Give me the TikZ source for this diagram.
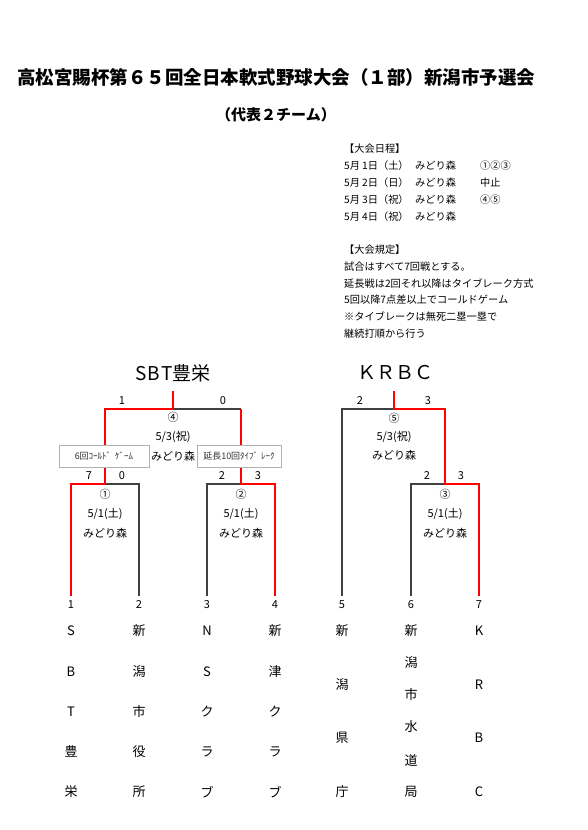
\documentclass[tikz,border=0pt]{standalone}
\usepackage{fontspec}
\setmainfont{Noto Sans CJK JP}
\begin{document}
\begin{tikzpicture}[x=1pt,y=-1pt,
  redline/.style={draw=red,line width=1.8pt,line join=miter},
  grayline/.style={draw=black!75,line width=1.1pt},
  lbl/.style={inner sep=0pt,font=\fontsize{11}{11}\selectfont},
  sched/.style={inner sep=0pt,anchor=west,font=\fontsize{10.2}{10.2}\selectfont},
  teamch/.style={inner sep=0pt,font=\fontsize{13}{13}\selectfont},
  notebox/.style={draw=black!30,fill=white,line width=0.8pt,inner sep=0pt,minimum height=22pt,font=\fontsize{9}{9}\selectfont,text=black!80},
  header/.style={inner sep=0pt,font=\fontsize{19}{19}\selectfont}]
\useasboundingbox (0,0) rectangle (587,830);
\fill[white] (0,0) rectangle (587,830);

% title
\node[inner sep=0pt,font=\fontsize{18.5}{18.5}\selectfont\bfseries] (title) at (276,77) {高松宮賜杯第６５回全日本軟式野球大会（１部）新潟市予選会};
\node[inner sep=0pt,font=\fontsize{15}{15}\selectfont\bfseries] (subtitle) at (276,115) {（代表２チーム）};

% schedule
\node[sched] (s0) at (344,148.5) {【大会日程】};
\node[sched] (s1) at (344,165.5) {\makebox[18pt][l]{5月}\makebox[53pt][l]{1日（土）}\makebox[65pt][l]{みどり森}①②③};
\node[sched] (s2) at (344,182.5) {\makebox[18pt][l]{5月}\makebox[53pt][l]{2日（日）}\makebox[65pt][l]{みどり森}中止};
\node[sched] (s3) at (344,199.5) {\makebox[18pt][l]{5月}\makebox[53pt][l]{3日（祝）}\makebox[65pt][l]{みどり森}④⑤};
\node[sched] (s4) at (344,216.5) {\makebox[18pt][l]{5月}\makebox[53pt][l]{4日（祝）}みどり森};
\node[sched] (r0) at (344,250) {【大会規定】};
\node[sched] (r1) at (344,266.7) {試合はすべて7回戦とする。};
\node[sched] (r2) at (344,283.4) {延長戦は2回それ以降はタイブレーク方式};
\node[sched] (r3) at (344,300.1) {5回以降7点差以上でコールドゲーム};
\node[sched] (r4) at (344,316.8) {※タイブレークは無死二塁一塁で};
\node[sched] (r5) at (344,333.5) {継続打順から行う};

% headers
\node[header] (hA) at (173,373) {S\hspace{1pt}B\hspace{1pt}T豊栄};
\node[header] (hB) at (395,373) {ＫＲＢＣ};

% bracket coordinates
\coordinate (t1) at (71,596);
\coordinate (t2) at (139,596);
\coordinate (t3) at (207,596);
\coordinate (t4) at (275,596);
\coordinate (t5) at (342,596);
\coordinate (t6) at (411,596);
\coordinate (t7) at (479,596);
\coordinate (m1) at (105,484);
\coordinate (m2) at (241,484);
\coordinate (m3) at (445,484);
\coordinate (m4) at (173,409);
\coordinate (m5) at (394,409);
\coordinate (w4) at (173,391);
\coordinate (w5) at (394,391);

% losers (gray)
\draw[grayline] (t2) |- (m1);
\draw[grayline] (t3) |- (m2);
\draw[grayline] (t6) |- (m3);
\draw[grayline] (m2 |- m4) -- (m4);
\draw[grayline] (t5) |- (m5);
% winners (red)
\draw[redline] (t1) |- (m1) |- (m4) -- (w4);
\draw[redline] (t4) |- (m2) -- (m2 |- m4);
\draw[redline] (t7) |- (m3) |- (m5) -- (w5);

% scores
\node[lbl] (a1) at (122,401) {1};
\node[lbl] (a2) at (223,401) {0};
\node[lbl] (b1) at (360,401) {2};
\node[lbl] (b2) at (428,401) {3};
\node[lbl] (c1) at (89,476) {7};
\node[lbl] (c2) at (122,476) {0};
\node[lbl] (d1) at (222,476) {2};
\node[lbl] (d2) at (258,476) {3};
\node[lbl] (e1) at (427,476) {2};
\node[lbl] (e2) at (461,476) {3};

% match labels
\node[lbl] (g4) at (173,417) {④};
\node[lbl] (g4d) at (173,437) {5/3(祝)};
\node[lbl] (g4p) at (173,456) {みどり森};
\node[lbl] (g5) at (394,418) {⑤};
\node[lbl] (g5d) at (394,437) {5/3(祝)};
\node[lbl] (g5p) at (394,455.5) {みどり森};
\node[lbl] (g1) at (105,494) {①};
\node[lbl] (g1d) at (105,514) {5/1(土)};
\node[lbl] (g1p) at (105,533) {みどり森};
\node[lbl] (g2) at (241,494) {②};
\node[lbl] (g2d) at (241,514) {5/1(土)};
\node[lbl] (g2p) at (241,533) {みどり森};
\node[lbl] (g3) at (445,494) {③};
\node[lbl] (g3d) at (445,514) {5/1(土)};
\node[lbl] (g3p) at (445,533) {みどり森};

% note boxes
\node[notebox,minimum width=90pt] (nb1) at (104,456) {6回ｺｰﾙﾄﾞ\hspace{4pt}ｹﾞｰﾑ};
\node[notebox,minimum width=84pt] (nb2) at (239,456) {延長10回ﾀｲﾌﾞ\hspace{3pt}ﾚｰｸ};

% team numbers
\foreach \n/\x in {1/71,2/139,3/207,4/275,5/342,6/411,7/479}
  \node[lbl,anchor=base] (num\n) at (\x,608) {\n};

% team names
\foreach \c/\x/\s in {1/71/{S,B,T,豊,栄},2/139/{新,潟,市,役,所},3/207/{N,S,ク,ラ,ブ},4/275/{新,津,ク,ラ,ブ}}{
  \foreach \ch [count=\i] in \s
    \node[teamch] (tn\c-\i) at (\x,{631+40.25*(\i-1)}) {\ch};
}
\foreach \ch/\y [count=\i] in {新/631,潟/685,県/738,庁/792}
  \node[teamch] (tn5-\i) at (342,\y) {\ch};
\foreach \ch/\y [count=\i] in {新/631,潟/663,市/695,水/727,道/760,局/792}
  \node[teamch] (tn6-\i) at (411,\y) {\ch};
\foreach \ch/\y [count=\i] in {K/631,R/685,B/738,C/792}
  \node[teamch] (tn7-\i) at (479,\y) {\ch};
\end{tikzpicture}
\end{document}
